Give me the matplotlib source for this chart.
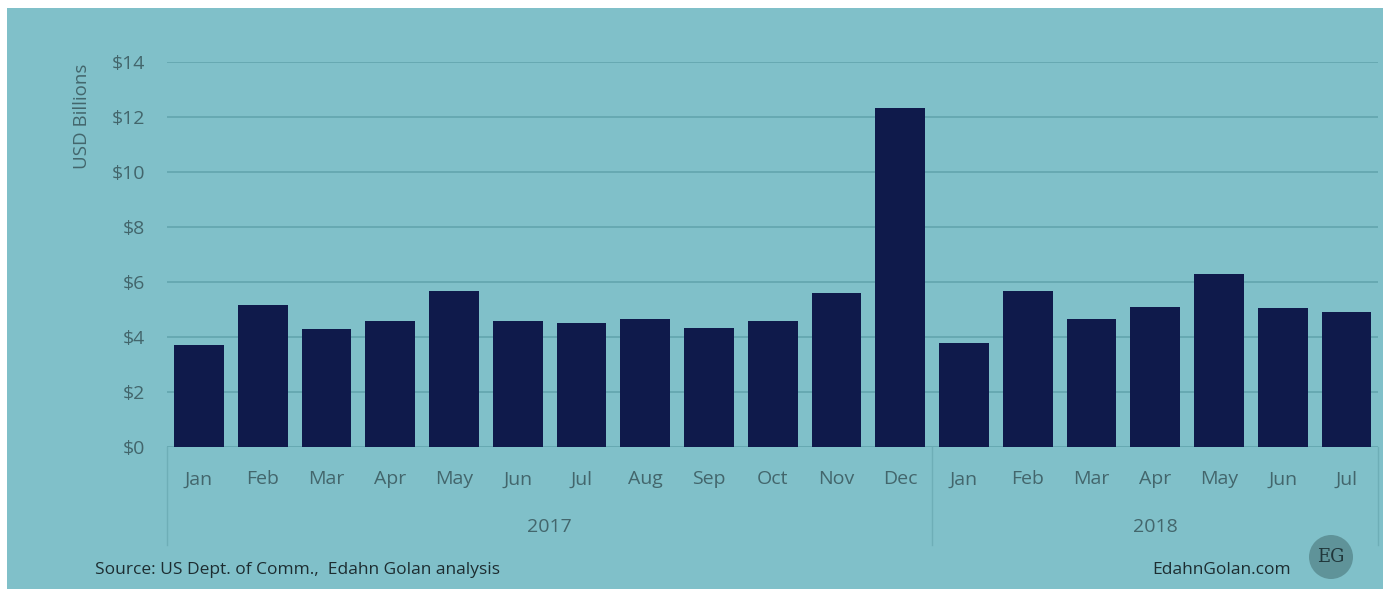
import numpy as np
import matplotlib.pyplot as plt
from matplotlib.patches import Rectangle, Ellipse
import matplotlib.transforms as mtransforms

months = ['Jan', 'Feb', 'Mar', 'Apr', 'May', 'Jun', 'Jul', 'Aug', 'Sep', 'Oct', 'Nov', 'Dec',
          'Jan', 'Feb', 'Mar', 'Apr', 'May', 'Jun', 'Jul']
values = [3.69, 5.16, 4.27, 4.58, 5.66, 4.58, 4.51, 4.64, 4.33, 4.58, 5.58, 12.33,
          3.76, 5.66, 4.64, 5.08, 6.28, 5.03, 4.89]
years = ['2017', '2018']
year_counts = [12, 7]
yticks = [0, 2, 4, 6, 8, 10, 12, 14]

bg = '#80c0c9'
bar_color = '#0f1a4b'
grid_color = '#63a5ae'
label_color = '#43666c'
text_color = '#1d2d31'

plt.rcParams['font.family'] = ['Open Sans', 'DejaVu Sans']

W, H = 1383, 597
fig = plt.figure(figsize=(W / 100, H / 100), dpi=100)
fig.patch.set_facecolor('white')
fig.patches.append(Rectangle((7 / W, 8 / H), 1 - 7 / W, 1 - 16 / H, transform=fig.transFigure,
                             facecolor=bg, edgecolor='none', zorder=-10))

ax = fig.add_axes([167 / W, 1 - 446.7 / H, (1378.4 - 167) / W, (446.7 - 61.7) / H])
ax.set_facecolor('none')
x = np.arange(len(values))
ax.bar(x, values, width=0.78, color=bar_color, zorder=3)
ax.set_xlim(-0.5, len(values) - 0.5)
ax.set_ylim(0, 14)
ax.set_yticks(yticks)
ax.set_yticklabels(['$%d' % v for v in yticks])
ax.set_xticks(x)
ax.set_xticklabels(months)
ax.tick_params(axis='both', length=0, labelsize=14, labelcolor=label_color)
ax.tick_params(axis='y', pad=16)
ax.tick_params(axis='x', pad=17)
for s in ax.spines.values():
    s.set_visible(False)
ax.grid(axis='y', color=grid_color, linewidth=1.2, zorder=1)

# category group separators and year labels
trans = mtransforms.blended_transform_factory(ax.transData, ax.transAxes)
ybot = -(545 - 446.7) / (446.7 - 61.7)
start = 0
edges = [-0.5]
for yr, n in zip(years, year_counts):
    ax.text(start + (n - 1) / 2, -(527 - 446.7) / (446.7 - 61.7), yr, transform=trans,
            ha='center', va='center', fontsize=14, color=label_color)
    start += n
    edges.append(start - 0.5)
for e in edges:
    ax.plot([e, e], [0, ybot], transform=trans, color='#6eaeb7', linewidth=1, clip_on=False)

fig.text(82 / W, 1 - 116 / H, 'USD Billions', rotation=90, ha='center', va='center',
         fontsize=13.5, color=label_color)
fig.text(95 / W, 1 - 570 / H, 'Source: US Dept. of Comm.,  Edahn Golan analysis',
         ha='left', va='center', fontsize=12.5, color=text_color)
fig.text(1291 / W, 1 - 570 / H, 'EdahnGolan.com', ha='right', va='center',
         fontsize=12.5, color=text_color)

# EG badge
fig.patches.append(Ellipse((1331 / W, 1 - 557 / H), 44 / W, 44 / H, transform=fig.transFigure,
                           facecolor='#5f9399', edgecolor='none', zorder=2))
fig.text(1331 / W, 1 - 557 / H, 'EG', ha='center', va='center', fontsize=13,
         family=['DejaVu Serif'], color='#20363a', zorder=3)

fig.savefig('out.png', dpi=100, facecolor=fig.get_facecolor())
